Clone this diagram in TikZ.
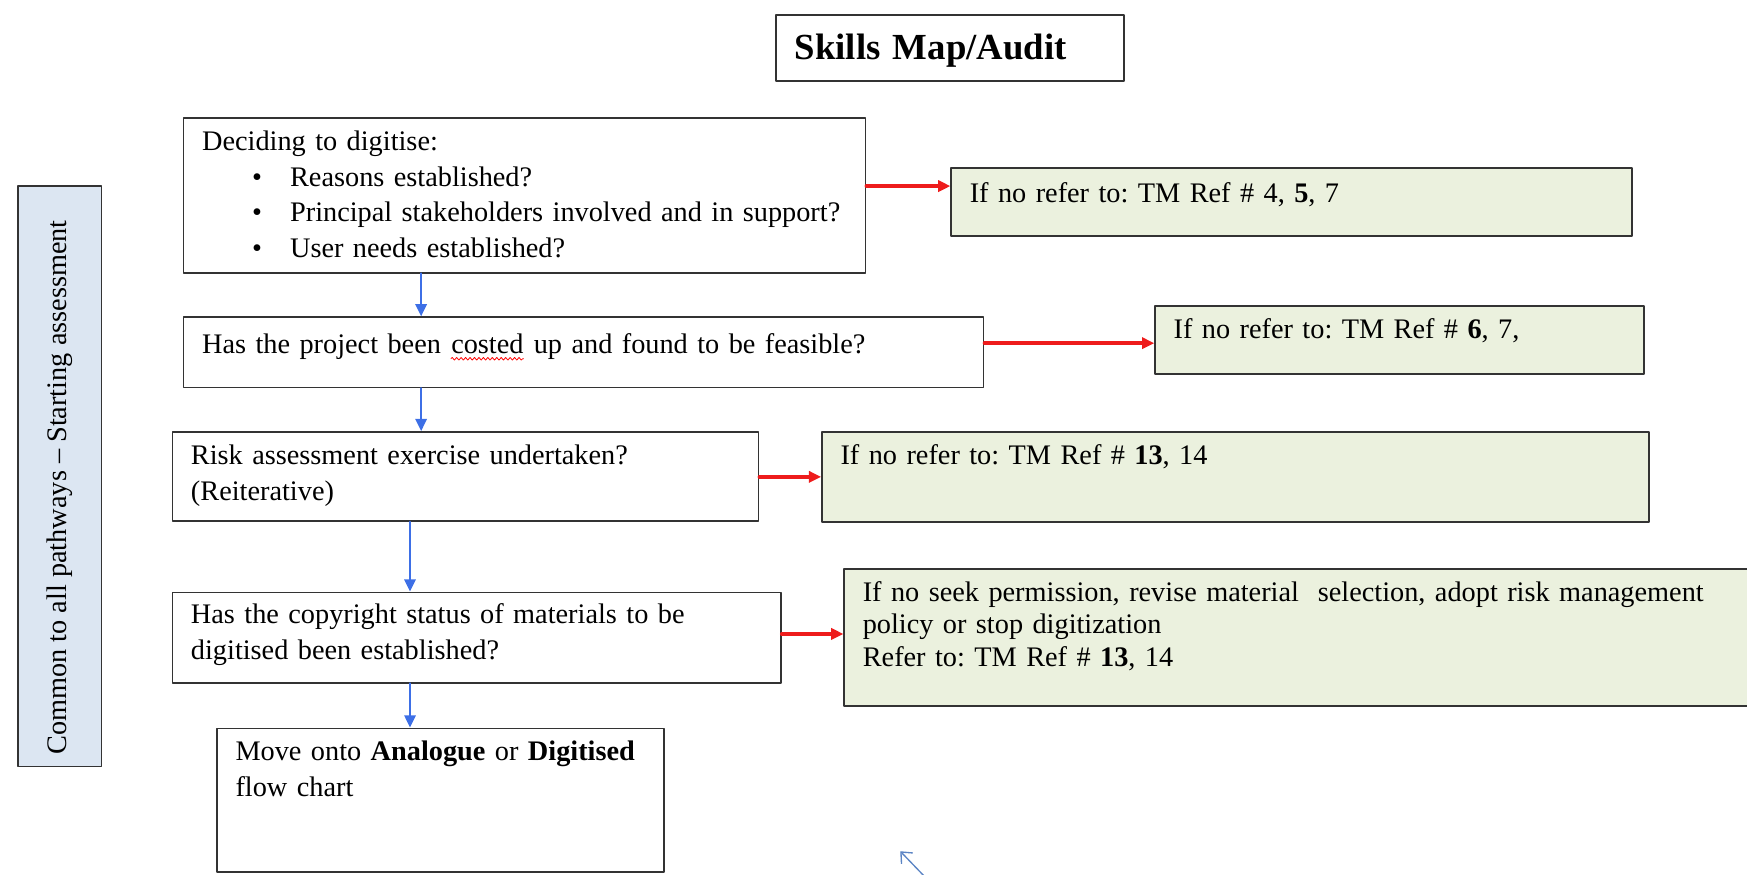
\documentclass[tikz,border=0pt]{standalone}
\usepackage{fontspec}
\setmainfont{Liberation Serif}
\usepackage{tikz}
\usetikzlibrary{arrows,arrows.meta,calc,positioning,decorations.pathmorphing}
\definecolor{boxline}{HTML}{333333}
\definecolor{refgreen}{HTML}{EBF1DE}
\definecolor{sidegrey}{HTML}{DCE6F2}
\definecolor{downblue}{HTML}{3D6FE6}
\definecolor{nored}{HTML}{EE1C1C}
\definecolor{cursorblue}{HTML}{5B84C4}
\frenchspacing
\newcommand{\itm}[1]{\hspace*{22.5bp}\makebox[17bp][l]{\textbullet}#1}
\newcommand{\squiggle}[1]{\tikz[baseline=(w.base)]{\node[inner sep=0pt] (w) {#1};
  \draw[red,line width=0.35bp,decorate,decoration={snake,amplitude=0.6bp,segment length=2bp}]
    ([yshift=-2.5bp]w.base west) -- ([yshift=-2.5bp]w.base east);}}

\begin{document}
\begin{tikzpicture}[line cap=round,line join=round,>={Triangle[length=5.5bp,width=5bp]},x=0.5bp,y=-0.5bp,
  box/.style={draw=boxline,line width=0.75bp,fill=white,anchor=north west,inner sep=0pt},
  refbox/.style={box,fill=refgreen},
  lab/.style={anchor=base west,inner sep=0pt,align=left,text width=560bp,
    font=\fontsize{12.7bp}{16bp}\selectfont,xshift=8.5bp,yshift=#1},
  lab/.default=-15bp,
  down/.style={->,draw=downblue,fill=downblue,line width=1.2bp},
  no/.style={->,draw=nored,fill=nored,line width=1.5bp},
  pointer/.style={-{Straight Barb[length=4bp,width=7bp]},draw=cursorblue,line width=0.6bp}]
\useasboundingbox (0,0) rectangle (1568,785);

% title
\node[box,minimum width=156bp,minimum height=29.5bp,
  label={[lab=-20bp,font=\fontsize{16.5bp}{20bp}\selectfont\bfseries]north west:{Skills Map/Audit}}] (title) at (696,13) {};

% side bar
\node[draw=boxline,line width=0.75bp,fill=sidegrey,rotate=90,minimum width=260.5bp,minimum height=37.5bp,
  font=\fontsize{12.7bp}{15bp}\selectfont] (side) at (53.5,427.5)
  {Common to all pathways -- Starting assessment\hspace*{10bp}};

% questions
\node[box,minimum width=306bp,minimum height=69.5bp,
  label={[lab]north west:{Deciding to digitise:\\
    \itm{Reasons established?}\\
    \itm{Principal stakeholders involved and in support?}\\
    \itm{User needs established?}}}] (decide) at (164,105) {};
\node[box,minimum width=359bp,minimum height=31.5bp,
  label={[lab=-16.5bp]north west:{Has the project been \squiggle{costed} up and found to be feasible?}}] (cost) at (164,284) {};
\node[box,minimum width=263bp,minimum height=40bp,
  label={[lab]north west:{Risk assessment exercise undertaken?\\(Reiterative)}}] (risk) at (154,387) {};
\node[box,minimum width=273bp,minimum height=40.5bp,
  label={[lab=-14.5bp]north west:{Has the copyright status of materials to be\\digitised been established?}}] (copy) at (154,531) {};
\node[box,minimum width=200.5bp,minimum height=64.5bp,
  label={[lab]north west:{Move onto \textbf{Analogue} or \textbf{Digitised}\\flow chart}}] (move) at (194,653) {};

% references
\node[refbox,minimum width=305.5bp,minimum height=30.5bp,
  label={[lab=-16bp]north west:{If no refer to: TM Ref \# 4, \textbf{5}, 7}}] (ref1) at (853,150) {};
\node[refbox,minimum width=219.5bp,minimum height=30.5bp,
  label={[lab]north west:{If no refer to: TM Ref \# \textbf{6}, 7,}}] (ref2) at (1036,274) {};
\node[refbox,minimum width=371bp,minimum height=40.5bp,
  label={[lab]north west:{If no refer to: TM Ref \# \textbf{13}, 14}}] (ref3) at (737,387) {};
\node[refbox,minimum width=410bp,minimum height=61.5bp,
  label={[lab,font=\fontsize{12.7bp}{14.5bp}\selectfont]north west:{If no seek permission, revise material\ \ selection, adopt risk management\\
    policy or stop digitization\\
    Refer to: TM Ref \# \textbf{13}, 14}}] (ref4) at (757,510) {};

% connectors
\coordinate (upper) at (378,0);
\coordinate (lower) at (368,0);
\coordinate (no1) at (0,167);
\coordinate (no2) at (0,308);
\coordinate (no3) at (0,428);
\coordinate (no4) at (0,569);
\draw[down] (decide.south -| upper) -- (cost.north -| upper);
\draw[down] (cost.south -| upper) -- (risk.north -| upper);
\draw[down] (risk.south -| lower) -- (copy.north -| lower);
\draw[down] (copy.south -| lower) -- (move.north -| lower);
\draw[no] (decide.east |- no1) -- (ref1.west |- no1);
\draw[no] (cost.east |- no2) -- (ref2.west |- no2);
\draw[no] (risk.east |- no3) -- (ref3.west |- no3);
\draw[no] (copy.east |- no4) -- (ref4.west |- no4);

% stray pointer
\coordinate (ctail) at (833,790);
\coordinate (ctip) at (808,764);
\draw[pointer] (ctail) -- (ctip);
\end{tikzpicture}
\end{document}
